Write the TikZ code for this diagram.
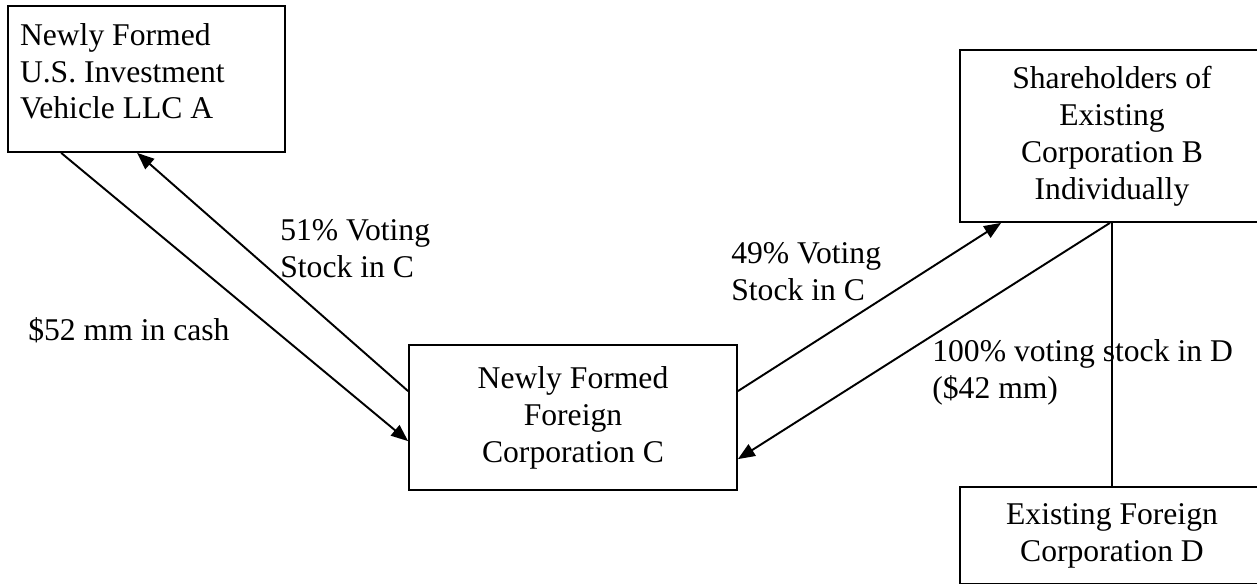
\documentclass[tikz,border=0pt]{standalone}
\usepackage{fontspec}
\setmainfont{Liberation Serif}
\usetikzlibrary{arrows.meta,calc}
\begin{document}
\begin{tikzpicture}[box/.style={draw,line width=1pt,inner sep=0pt,align=center},
  lbl/.style={anchor=west,inner sep=0pt,align=left},
  flow/.style={line width=1.1pt,-{Triangle[length=0.34cm,width=0.27cm]}},
  font=\fontsize{18}{21}\selectfont]
\useasboundingbox (0,0) rectangle (25.14,-11.66);
\node[box,minimum width=5.54cm,minimum height=2.92cm,align=flush left,text width=5.06cm] (llcA) at (2.93,-1.58) {Newly Formed\\U.S. Investment\\Vehicle LLC A\\[-12pt]\mbox{}};
\node[box,minimum width=6.08cm,minimum height=3.44cm] (shB) at (22.24,-2.72) {Shareholders of\\Existing\\Corporation B\\Individually};
\node[box,minimum width=6.56cm,minimum height=2.9cm] (corpC) at (11.46,-8.35) {Newly Formed\\Foreign\\Corporation C};
\node[box,minimum width=6.08cm,minimum height=1.94cm] (corpD) at (22.24,-10.71) {Existing Foreign\\Corporation D};
\node[lbl] (v51) at (5.6,-4.98) {51\% Voting\\Stock in C};
\node[lbl] (cash) at (0.56,-6.6) {\$52 mm in cash};
\node[lbl] (v49) at (14.62,-5.43) {49\% Voting\\Stock in C};
\node[lbl] (v100) at (18.64,-7.45) {100\% voting stock in D\\(\$42 mm)};
\draw[flow] ($(llcA.south west)+(1.08,0)$) -- ($(corpC.north west)+(0,-1.94)$);
\draw[flow] ($(corpC.north west)+(0,-0.94)$) -- ($(llcA.south west)+(2.6,0)$);
\draw[flow] ($(corpC.north east)+(0,-0.94)$) -- ($(shB.south west)+(0.84,0)$);
\draw[flow] ($(shB.south)+(-0.04,0)$) -- ($(corpC.north east)+(0,-2.3)$);
\draw[line width=0.7pt] (shB.south) -- (corpD.north);
\end{tikzpicture}
\end{document}
